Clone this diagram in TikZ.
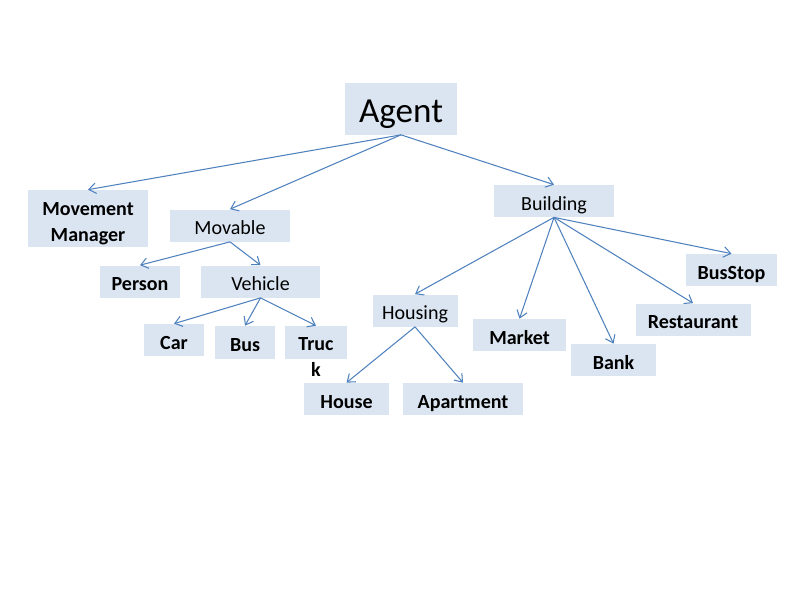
\documentclass[tikz,border=0pt]{standalone}
\usepackage{fontspec}
\setmainfont{Carlito}
\usetikzlibrary{arrows.meta}
\definecolor{boxblue}{RGB}{219,229,241}
\definecolor{linkblue}{RGB}{79,129,189}
\tikzstyle{box}=[fill=boxblue,inner sep=0pt,minimum height=0.64cm,text height=1.05em,text depth=0pt,font=\fontsize{11.4}{14.5}\selectfont]
\tikzstyle{link}=[draw=linkblue,line width=0.6pt,-{Straight Barb[length=4pt,width=6pt]}]

\begin{document}
\begin{tikzpicture}[x=0.02cm, y=-0.02cm]
	\useasboundingbox (0,0) rectangle (800,600);
	%top
	\node[box, minimum width=2.24cm, minimum height=1.04cm, text height=16.3pt, font=\fontsize{20}{23}\selectfont] (agent) at (401,108.5) {Agent};
	%second row
	\node[box, minimum width=2.4cm, minimum height=1.14cm, align=center, text height=25.7pt] (manager) at (88,218.5) {\textbf{Movement}\\\textbf{Manager}};
	\node[box, minimum width=2.4cm] (movable) at (230,225.5) {Movable};
	\node[box, minimum width=2.4cm] (building) at (554,201) {Building};
	%movable branch
	\node[box, minimum width=1.6cm] (person) at (140,281.5) {\textbf{Person}};
	\node[box, minimum width=2.4cm] (vehicle) at (260.5,281.5) {Vehicle};
	\node[box, minimum width=1.2cm] (car) at (174,340) {\textbf{Car}};
	\node[box, minimum width=1.2cm, minimum height=0.66cm] (bus) at (245,342.5) {\textbf{Bus}};
	\node[box, minimum width=1.24cm, minimum height=0.66cm] (truck) at (316,342.5) {};
	\node[font=\fontsize{11.4}{14.5}\selectfont, align=center, inner sep=0pt] (trucktext) at (316,357) {\textbf{Truc}\\\textbf{k}};
	%building branch
	\node[box, minimum width=1.7cm] (housing) at (415,310.5) {Housing};
	\node[box, minimum width=1.7cm] (house) at (346.5,399) {\textbf{House}};
	\node[box, minimum width=2.4cm] (apartment) at (463,399) {\textbf{Apartment}};
	\node[box, minimum width=1.86cm] (market) at (519.5,335) {\textbf{Market}};
	\node[box, minimum width=1.7cm] (bank) at (613.5,360) {\textbf{Bank}};
	\node[box, minimum width=2.3cm] (restaurant) at (693,319.5) {\textbf{Restaurant}};
	\node[box, minimum width=1.82cm] (busstop) at (731.5,270) {\textbf{BusStop}};
	%links
	\foreach \a/\b in {agent/manager, agent/movable, agent/building,
		movable/person, movable/vehicle,
		vehicle/car, vehicle/bus, vehicle/truck,
		building/housing, building/market, building/bank, building/restaurant, building/busstop,
		housing/house, housing/apartment}
	\draw[link] (\a.south) -- (\b.north);
\end{tikzpicture}
\end{document}
